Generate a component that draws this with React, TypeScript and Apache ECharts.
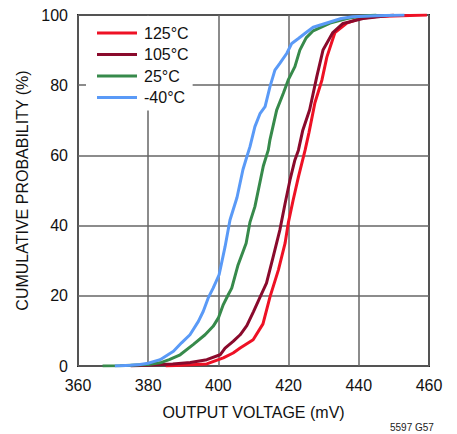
import React, { useEffect, useRef } from "react";
import * as echarts from "echarts";

const xTicks = [360, 380, 400, 420, 440, 460];
const yTicks = [0, 20, 40, 60, 80, 100];
const seriesNames = ["125°C", "105°C", "25°C", "-40°C"];

const t125V = [385, 396.7, 401.4, 404.2, 406.2, 409.9, 412.7, 414.7, 417.1, 419, 419.9, 421.3, 422.8, 424.7, 425.8, 427.5, 429.5, 430.9, 433.2, 436.6, 440.3, 445, 459.4];
const t125P = [0, 0.6, 2.3, 3.7, 5.1, 7.5, 12, 19.7, 27.4, 35, 40.7, 47.3, 53.9, 61.5, 66.5, 75, 81.5, 88, 95, 97.7, 99, 99.6, 100];

const t105V = [375, 387, 392, 396.7, 400.5, 401.9, 404.2, 406.2, 408.1, 410, 411.9, 413.7, 415.6, 417.5, 419, 420.4, 421.8, 422.8, 424, 426, 428, 429.8, 432.6, 435.5, 441.2, 450];
const t105P = [0, 0.6, 1, 1.8, 3.2, 5.1, 7, 8.9, 11.5, 15.5, 19.7, 23.6, 31.1, 38.7, 46.3, 53, 58.7, 61.5, 67, 73, 82.3, 90, 95, 97.6, 99, 100];

const t25V = [367, 372, 380, 383.4, 386, 389.1, 392.8, 396.2, 398.5, 400, 401.4, 402.8, 403.8, 405.6, 407.9, 409, 410.4, 412.8, 414.2, 414.7, 416.6, 418.5, 419.9, 421.8, 423.2, 425, 427, 431.8, 436.6, 440, 445];
const t25P = [0, 0.1, 0.4, 0.9, 1.8, 3.2, 6.1, 8.9, 11.3, 13.7, 17.5, 20.3, 22.2, 28.8, 35, 41, 45.4, 57, 61.5, 64.5, 72.9, 77.7, 81.5, 85.3, 90, 93.5, 95.5, 97.7, 99, 99.6, 100];

const tm40V = [370.5, 375, 377.7, 380, 383.4, 387.2, 389.5, 391.9, 394.3, 395.7, 397.1, 398.5, 400.2, 401.9, 403.3, 405.3, 407, 408.1, 409, 410.4, 411.9, 413.3, 414.7, 416.1, 417.5, 419.5, 420.9, 422.8, 425, 427, 431.8, 435, 438.3, 445, 453];
const tm40P = [0, 0.2, 0.4, 0.8, 1.8, 4.2, 6.6, 8.9, 12.7, 15.6, 19.4, 22.2, 26, 34, 41.6, 48, 56, 59.6, 62.5, 68.2, 72, 73.9, 79.6, 84.3, 86.2, 89.1, 91.9, 93.3, 95, 96.5, 98, 99, 99.5, 99.8, 100];

const colors = ["#ee1125", "#8a0a2c", "#378a4b", "#5a9af7"];
const FONT = "'Liberation Sans', Arial, sans-serif";

const zip = (v: number[], p: number[]) => v.map((x, i) => [x, p[i]]);

export default function App() {
  const ref = useRef<HTMLDivElement>(null);
  useEffect(() => {
    if (!ref.current) return;
    const chart = echarts.init(ref.current, undefined, { renderer: "svg" });
    const dataSets = [zip(t125V, t125P), zip(t105V, t105P), zip(t25V, t25P), zip(tm40V, tm40P)];
    chart.setOption({
      animation: false,
      backgroundColor: "#ffffff",
      grid: {
        left: 78,
        top: 15,
        width: 351,
        height: 351,
        show: true,
        borderColor: "#222",
        borderWidth: 2,
        backgroundColor: "transparent",
      },
      xAxis: {
        type: "value",
        min: xTicks[0],
        max: xTicks[xTicks.length - 1],
        interval: 20,
        name: "OUTPUT VOLTAGE (mV)",
        nameLocation: "middle",
        nameGap: 38,
        nameTextStyle: { fontFamily: FONT, fontSize: 16, color: "#111" },
        axisLine: { show: false },
        axisTick: { show: false },
        axisLabel: { fontFamily: FONT, fontSize: 16, color: "#111", margin: 11 },
        splitLine: { show: true, lineStyle: { color: "#666", width: 1.5 } },
      },
      yAxis: {
        type: "value",
        min: yTicks[0],
        max: yTicks[yTicks.length - 1],
        interval: 20,
        name: "CUMULATIVE PROBABILITY (%)",
        nameLocation: "middle",
        nameGap: 47,
        nameTextStyle: { fontFamily: FONT, fontSize: 16, color: "#111" },
        axisLine: { show: false },
        axisTick: { show: false },
        axisLabel: { fontFamily: FONT, fontSize: 16, color: "#111", margin: 10 },
        splitLine: { show: true, lineStyle: { color: "#666", width: 1.5 } },
      },
      legend: {
        data: seriesNames,
        orient: "vertical",
        left: 86,
        top: 16,
        padding: [7, 4, 3, 11],
        itemGap: 1.5,
        itemWidth: 40,
        itemHeight: 3,
        icon: "rect",
        backgroundColor: "#ffffff",
        textStyle: { fontFamily: FONT, fontSize: 16, color: "#111", lineHeight: 20, padding: [0, 0, 0, 2] },
      },
      series: seriesNames.map((name, i) => ({
        name,
        type: "line",
        data: dataSets[i],
        showSymbol: false,
        symbol: "none",
        smooth: false,
        lineStyle: { color: colors[i], width: 3 },
        itemStyle: { color: colors[i] },
      })),
      graphic: [
        {
          type: "text",
          left: 390,
          top: 422,
          style: { text: "5597 G57", fontFamily: FONT, fontSize: 10, fill: "#222" },
        },
      ],
    });
    return () => chart.dispose();
  }, []);
  return <div ref={ref} style={{ width: 457, height: 434, position: "absolute", left: 0, top: 0 }} />;
}
